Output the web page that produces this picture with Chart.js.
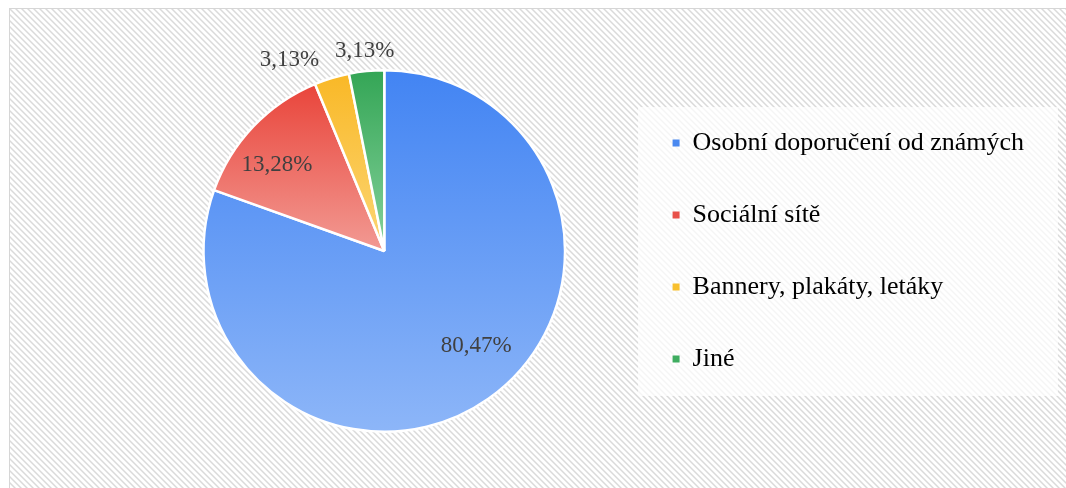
<!DOCTYPE html>
<html>
<head>
<meta charset="utf-8">
<script src="https://cdn.jsdelivr.net/npm/chart.js@4.4.1/dist/chart.umd.min.js"></script>
<style>
  html, body { margin: 0; padding: 0; background: #fff; overflow: hidden; }
  #wrap { position: relative; width: 1066px; height: 488px; overflow: hidden; }
  #frame {
    position: absolute; left: 9px; top: 8px; right: -20px; bottom: -20px;
    border-top: 1px solid #d6d6d6; border-left: 1px solid #d6d6d6;
    background-color: #fff;
  }
  #legend-bg {
    position: absolute; left: 638px; top: 107px; width: 420px; height: 289px;
    background: rgba(255,255,255,0.72);
  }
  #chart { position: absolute; left: 0; top: 0; }
</style>
</head>
<body>
<div id="wrap">
  <div id="frame"></div>
  <div id="legend-bg"></div>
  <canvas id="chart" width="1066" height="488"></canvas>
</div>
<script>
const categories = ['Osobní doporučení od známých', 'Sociální sítě', 'Bannery, plakáty, letáky', 'Jiné'];
const shares = [80.47, 13.28, 3.13, 3.13];

// slice fills: darker at the top of each slice, lighter at its bottom
const topColors = ['#4284f3', '#e9443a', '#f9b826', '#33a555'];
const bottomColors = ['#8db6f8', '#f29a93', '#fcd675', '#86d29c'];
const legendColors = ['#4a89f0', '#e8514a', '#f8c02e', '#3fad60'];

// where each value label sits: fraction of the radius, and a nudge of the angle (degrees)
const labelRadius = [0.73, 0.76, 1.18, 1.11];
const labelTurn = [-9, -5, -9.5, 0];

function q(id){ return document.getElementById(id); }

// diagonal hatch tile for the plot background
function hatchTile(){
  const t = document.createElement('canvas'); t.width = 6; t.height = 6;
  const c = t.getContext('2d');
  c.fillStyle = '#ffffff'; c.fillRect(0, 0, 6, 6);
  for (let y = 0; y < 6; y++) {
    for (let x = 0; x < 6; x++) {
      const d = ((x - y) % 6 + 6) % 6;
      if (d === 0) { c.fillStyle = '#dadada'; c.fillRect(x, y, 1, 1); }
      else if (d === 1 || d === 5) { c.fillStyle = '#ebebeb'; c.fillRect(x, y, 1, 1); }
    }
  }
  return t.toDataURL();
}
q('frame').style.backgroundImage = 'url(' + hatchTile() + ')';

function sliceFill(ctx){
  const chart = ctx.chart, i = ctx.dataIndex;
  const area = chart.chartArea;
  if (!area) return topColors[i];
  const cx = (area.left + area.right) / 2, cy = (area.top + area.bottom) / 2;
  const r = Math.min(area.right - area.left, area.bottom - area.top) / 2;
  const total = shares.reduce((a, b) => a + b, 0);
  let start = 0;
  for (let k = 0; k < i; k++) start += shares[k] / total * 360;
  const end = start + shares[i] / total * 360;
  // vertical extent of the slice (angles measured clockwise from the top)
  const ys = [cy];
  const yAt = a => cy - r * Math.cos(a * Math.PI / 180);
  ys.push(yAt(start), yAt(end));
  if (start <= 180 && end >= 180) ys.push(cy + r);
  if (start <= 0 || end >= 360) ys.push(cy - r);
  const y0 = Math.min(...ys), y1 = Math.max(...ys);
  const g = chart.ctx.createLinearGradient(0, y0, 0, y1);
  g.addColorStop(0, topColors[i]);
  g.addColorStop(1, bottomColors[i]);
  return g;
}

const valueLabels = {
  id: 'valueLabels',
  afterDatasetsDraw(chart){
    const c = chart.ctx;
    const meta = chart.getDatasetMeta(0);
    c.save();
    c.font = '23px "Liberation Serif", "Times New Roman", serif';
    c.fillStyle = '#404040';
    c.textAlign = 'center';
    c.textBaseline = 'middle';
    meta.data.forEach((arc, i) => {
      const p = arc.getProps(['x', 'y', 'startAngle', 'endAngle', 'outerRadius'], true);
      const mid = (p.startAngle + p.endAngle) / 2 + labelTurn[i] * Math.PI / 180;
      const rr = p.outerRadius * labelRadius[i];
      const txt = shares[i].toFixed(2).replace('.', ',') + '%';
      c.fillText(txt, p.x + Math.cos(mid) * rr, p.y + Math.sin(mid) * rr);
    });
    c.restore();
  }
};

new Chart(q('chart'), {
  type: 'pie',
  data: {
    labels: categories,
    datasets: [{
      data: shares,
      backgroundColor: sliceFill,
      borderColor: '#ffffff',
      borderWidth: 2.5
    }]
  },
  options: {
    responsive: false,
    animation: false,
    layout: { padding: { top: 69, bottom: 55, left: 142, right: 32 } },
    plugins: {
      tooltip: { enabled: false },
      legend: {
        position: 'right',
        labels: {
          boxWidth: 7,
          boxHeight: 7,
          padding: 46,
          color: '#595959',
          font: { family: '"Liberation Serif", "Times New Roman", serif', size: 26 },
          generateLabels(chart){
            return categories.map((name, i) => ({
              text: name, fillStyle: legendColors[i], strokeStyle: legendColors[i],
              lineWidth: 0, hidden: false, index: i
            }));
          }
        }
      }
    }
  },
  plugins: [valueLabels]
});
</script>
</body>
</html>
